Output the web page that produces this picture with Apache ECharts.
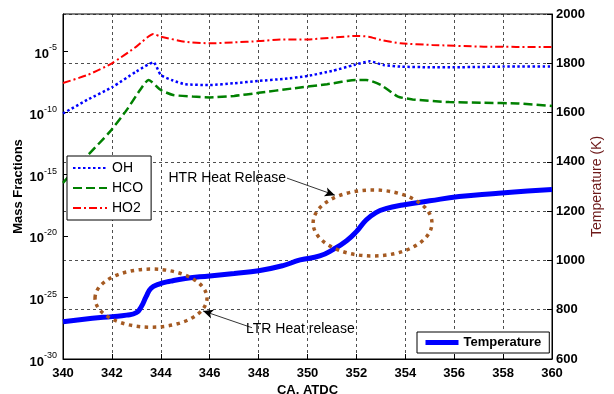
<!DOCTYPE html>
<html>
<head>
<meta charset="utf-8">
<script src="https://cdn.jsdelivr.net/npm/echarts@6/dist/echarts.min.js"></script>
<style>
  html, body { margin: 0; padding: 0; background: #fff; }
  #chart { width: 614px; height: 394px; }
</style>
</head>
<body>
<div id="chart"></div>
<script>
// Crank angle axis
const xTicks = { min: 340, max: 360, step: 2 };
// Mass-fraction axis, in decades (log10)
const massDecades = { min: -30, max: -2, step: 5 };
// Temperature axis (K)
const tempTicks = { min: 600, max: 2000, step: 200 };

// Species mass fractions, stored as log10 exponents
const ohX   = [340, 341, 342, 343, 343.7, 344, 344.5, 345, 346, 347, 348, 349, 350, 351, 351.9, 352.55, 353.1, 353.8, 355, 356, 357, 358, 360];
const ohLog = [-10.07, -8.96, -7.95, -6.67, -5.93, -6.95, -7.4, -7.7, -7.76, -7.62, -7.43, -7.27, -7.03, -6.62, -6.14, -5.84, -6.14, -6.27, -6.32, -6.32, -6.3, -6.27, -6.27];

const hcoX   = [340, 341, 341.92, 342.6, 343.15, 343.5, 344.0, 344.5, 345.3, 346, 347, 348, 349.4, 350.8, 352.0, 352.4, 353.0, 353.7, 354.3, 355.8, 357.2, 358.6, 360];
const hcoLog = [-15.7, -13.5, -11.55, -9.8, -8.17, -7.35, -8.17, -8.57, -8.7, -8.77, -8.65, -8.4, -8.04, -7.7, -7.35, -7.35, -7.76, -8.7, -8.93, -9.15, -9.2, -9.26, -9.47];

const ho2X   = [340, 341, 342, 343, 343.7, 344, 345, 346, 347, 348, 349, 350, 351, 352, 352.5, 353, 353.8, 355.1, 357.2, 360];
const ho2Log = [-7.6, -6.95, -6.0, -4.65, -3.62, -3.84, -4.25, -4.38, -4.3, -4.2, -4.06, -4.06, -3.92, -3.78, -3.84, -4.1, -4.38, -4.51, -4.65, -4.68];

// In-cylinder temperature (K)
const tempX = [340, 341.2, 342, 342.6, 343.0, 343.2, 343.4, 343.6, 343.9, 344.4, 345, 346, 347, 348, 349, 349.7, 350.5, 351.06, 351.6, 352.0, 352.4, 352.8, 353.2, 353.9, 355, 356.2, 357.7, 359, 360];
const tempK = [751, 765, 772, 778, 788, 812, 853, 887, 903, 916, 927, 937, 947, 958, 979, 1002, 1018, 1045, 1080, 1117, 1164, 1194, 1210, 1225, 1242, 1259, 1272, 1282, 1288];

// Annotations: ellipse centres/radii and arrow endpoints in (CA, K) units
const ltrZone = { cx: 343.6, cy: 847, rx: 2.29, ry: 118 };
const htrZone = { cx: 352.66, cy: 1152, rx: 2.43, ry: 134 };
const htrArrow = { from: [349.16, 1334], to: [351.12, 1265], text: 'HTR Heat Release' };
const ltrArrow = { from: [347.73, 727], to: [345.73, 795], text: 'LTR Heat release' };

const pairs = (xs, ys) => xs.map((x, i) => [x, ys[i]]);

const FONT = '"Liberation Sans", Arial, sans-serif';
const bold13 = { fontFamily: FONT, fontSize: 13, fontWeight: 'bold', color: '#000' };
const gridDash = { color: '#222', width: 0.8, type: [3, 3] };
const plainNum = v => String(v);

const chart = echarts.init(document.getElementById('chart'), null, { renderer: 'canvas' });

chart.setOption({
  animation: false,
  backgroundColor: '#fff',
  grid: {
    left: 63, right: 62, top: 14, bottom: 35,
    containLabel: false, outerBoundsMode: 'none',
    show: true, borderColor: '#000', borderWidth: 1, backgroundColor: 'transparent'
  },
  legend: [
    {
      data: ['OH', 'HCO', 'HO2'],
      orient: 'vertical', left: 67, top: 156,
      padding: [5, 8, 5, 5], itemGap: 6, itemWidth: 34, itemHeight: 14,
      backgroundColor: '#fff', borderColor: '#000', borderWidth: 1,
      itemStyle: { opacity: 0 },
      textStyle: Object.assign({}, bold13, { fontWeight: 'normal', fontSize: 14 }),
      selectedMode: false
    },
    {
      data: ['Temperature'],
      left: 417, top: 332,
      padding: [4, 8, 4, 6], itemWidth: 33, itemHeight: 14,
      backgroundColor: '#fff', borderColor: '#000', borderWidth: 1,
      itemStyle: { opacity: 0 },
      lineStyle: { width: 5 },
      textStyle: bold13,
      selectedMode: false
    }
  ],
  xAxis: {
    type: 'value', min: xTicks.min, max: xTicks.max, interval: xTicks.step,
    name: 'CA, ATDC', nameLocation: 'middle', nameGap: 25, nameMoveOverlap: false, nameTextStyle: bold13,
    axisLine: { show: true, lineStyle: { color: '#000', width: 1 } },
    axisTick: { show: true, inside: true, length: 5, lineStyle: { color: '#000' } },
    axisLabel: Object.assign({ margin: 8, formatter: plainNum }, bold13),
    splitLine: { show: true, lineStyle: gridDash }
  },
  yAxis: [
    {
      type: 'value', position: 'left', min: massDecades.min, max: massDecades.max, interval: massDecades.step,
      name: 'Mass Fractions', nameLocation: 'middle', nameGap: 38, nameMoveOverlap: false, nameTextStyle: bold13,
      axisLine: { show: true, lineStyle: { color: '#000' } },
      axisTick: { show: true, inside: true, length: 5, lineStyle: { color: '#000' } },
      splitLine: { show: false },
      axisLabel: {
        margin: 6,
        showMaxLabel: false,
        formatter: function (v) {
          if (v % 5 !== 0) return '';
          return '{b|10}{s|' + v + '}';
        },
        rich: {
          b: { fontFamily: FONT, fontSize: 13, fontWeight: 'bold', color: '#000', padding: [6, 0, 0, 0] },
          s: { fontFamily: FONT, fontSize: 9, color: '#000', padding: [0, 0, 6, 0] }
        }
      }
    },
    {
      type: 'value', position: 'right', min: tempTicks.min, max: tempTicks.max, interval: tempTicks.step,
      name: 'Temperature (K)', nameLocation: 'middle', nameGap: 38, nameMoveOverlap: false,
      nameTextStyle: Object.assign({}, bold13, { color: '#6e1a1a', fontWeight: 'normal', fontSize: 14 }),
      axisLine: { show: true, lineStyle: { color: '#000' } },
      axisTick: { show: true, inside: true, length: 5, lineStyle: { color: '#000' } },
      axisLabel: Object.assign({ margin: 4, formatter: plainNum }, bold13),
      splitLine: { show: true, lineStyle: gridDash }
    }
  ],
  series: [
    {
      name: 'OH', type: 'line', yAxisIndex: 0, symbol: 'none', smooth: 0.2,
      data: pairs(ohX, ohLog),
      color: '#0000ff',
      lineStyle: { color: '#0000ff', width: 2.5, type: [2.5, 2.5], cap: 'butt' }
    },
    {
      name: 'HCO', type: 'line', yAxisIndex: 0, symbol: 'none', smooth: 0.2,
      data: pairs(hcoX, hcoLog),
      color: '#008000',
      lineStyle: { color: '#008000', width: 2.5, type: [9, 4], cap: 'butt' }
    },
    {
      name: 'HO2', type: 'line', yAxisIndex: 0, symbol: 'none', smooth: 0.2,
      data: pairs(ho2X, ho2Log),
      color: '#ff0000',
      lineStyle: { color: '#ff0000', width: 2, type: [8, 3, 2, 3], cap: 'butt' }
    },
    {
      name: 'Temperature', type: 'line', yAxisIndex: 1, symbol: 'none',
      smooth: 0.5,
      data: pairs(tempX, tempK),
      color: '#0000ff',
      lineStyle: { color: '#0000ff', width: 5 },
      z: 3,
      markLine: {
        silent: true, animation: false,
        symbol: ['none', 'arrow'], symbolSize: [7, 10],
        label: { show: false },
        lineStyle: { color: '#000', width: 0.8, type: 'solid' },
        data: [
          [{ coord: htrArrow.from }, { coord: htrArrow.to }],
          [{ coord: ltrArrow.from }, { coord: ltrArrow.to }]
        ]
      }
    }
  ]
});

// Dotted ellipses and annotation texts, placed in data coordinates
function toPx(p) { return chart.convertToPixel({ xAxisIndex: 0, yAxisIndex: 1 }, p); }
function ellipseOf(z) {
  const c = toPx([z.cx, z.cy]);
  const e = toPx([z.cx + z.rx, z.cy + z.ry]);
  return {
    type: 'ellipse', z: 10, silent: true,
    shape: { cx: c[0], cy: c[1], rx: Math.abs(e[0] - c[0]), ry: Math.abs(c[1] - e[1]) },
    style: { fill: 'none', stroke: '#a55a22', lineWidth: 3.5, lineDash: [3.5, 4.5], lineCap: 'butt' }
  };
}
const hFrom = toPx(htrArrow.from);
const lFrom = toPx(ltrArrow.from);
chart.setOption({
  graphic: [
    ellipseOf(ltrZone),
    ellipseOf(htrZone),
    {
      type: 'text', z: 10, silent: true,
      style: { text: htrArrow.text, x: hFrom[0] - 1, y: hFrom[1], align: 'right', verticalAlign: 'middle',
               font: '14px ' + FONT, fill: '#000' }
    },
    {
      type: 'text', z: 10, silent: true,
      style: { text: ltrArrow.text, x: lFrom[0] - 6, y: lFrom[1] + 1, align: 'left', verticalAlign: 'middle',
               font: '14px ' + FONT, fill: '#000' }
    }
  ]
});
</script>
</body>
</html>
